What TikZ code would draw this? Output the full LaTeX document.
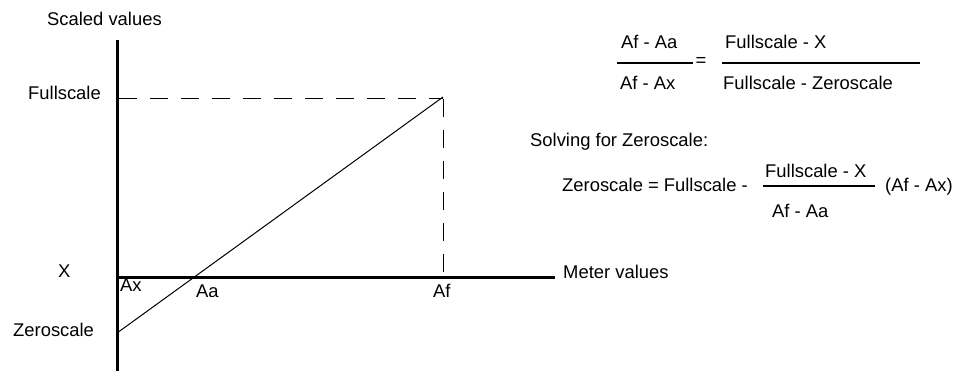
\documentclass[tikz,border=0pt]{standalone}
\usepackage{fontspec}
\setmainfont{Liberation Sans}
\begin{document}
\begin{tikzpicture}[x=1pt,y=-1pt,
  lbl/.style={anchor=base west,inner sep=0pt,font=\fontsize{18.4}{22}\selectfont},
  axisline/.style={line width=3pt},
  thinline/.style={line width=1pt},
  dashline/.style={line width=1pt,dash pattern=on 18pt off 13pt},
  fracline/.style={line width=1.3pt}]
\useasboundingbox (0,0) rectangle (966,370);
% axes
\coordinate (ytop) at (117,40);
\coordinate (ybot) at (117,371);
\coordinate (xl) at (116,277);
\coordinate (xr) at (555,277);
\draw[axisline] (ytop) -- (ybot);
\draw[axisline] (xl) -- (xr);
% line
\coordinate (zs) at (117,333);
\coordinate (fs) at (443,97);
\coordinate (fsy) at (119,98);
\coordinate (fsh) at (443,98);
\coordinate (fsv) at (443,99);
\coordinate (afx) at (443,277);
\draw[thinline] (zs) -- (fs);
\draw[dashline] (fsy) -- (fsh);
\draw[dashline] (fsv) -- (afx);
% labels
\node[lbl] (sv) at (47,25) {Scaled values};
\node[lbl] (fl) at (28,99) {Fullscale};
\node[lbl] (xlab) at (58,277) {X};
\node[lbl] (ax) at (120,291) {Ax};
\node[lbl] (aa) at (196,297) {Aa};
\node[lbl] (af) at (433,297) {Af};
\node[lbl] (zl) at (13,336) {Zeroscale};
\node[lbl] (mv) at (563,278) {Meter values};
% first formula
\node[lbl] (n1) at (621,48) {Af - Aa};
\node[lbl] (d1) at (620,89) {Af - Ax};
\coordinate (f1a) at (617,63);
\coordinate (f1b) at (693,63);
\draw[fracline] (f1a) -- (f1b);
\node[anchor=center,inner sep=0pt,font=\fontsize{18.4}{22}\selectfont] (eq) at (701,62) {=};
\node[lbl] (n2) at (725,48) {Fullscale - X};
\node[lbl] (d2) at (723,89) {Fullscale - Zeroscale};
\coordinate (f2a) at (722,63);
\coordinate (f2b) at (920,63);
\draw[fracline] (f2a) -- (f2b);
% solving
\node[lbl] (solv) at (530,146) {Solving for Zeroscale:};
\node[lbl] (zeq) at (562,191) {Zeroscale = Fullscale -};
\node[lbl] (n3) at (765,177) {Fullscale - X};
\node[lbl] (d3) at (772,217) {Af - Aa};
\coordinate (f3a) at (763,186);
\coordinate (f3b) at (875,186);
\draw[fracline] (f3a) -- (f3b);
\node[lbl] (par) at (885,191) {(Af - Ax)};
\end{tikzpicture}
\end{document}
